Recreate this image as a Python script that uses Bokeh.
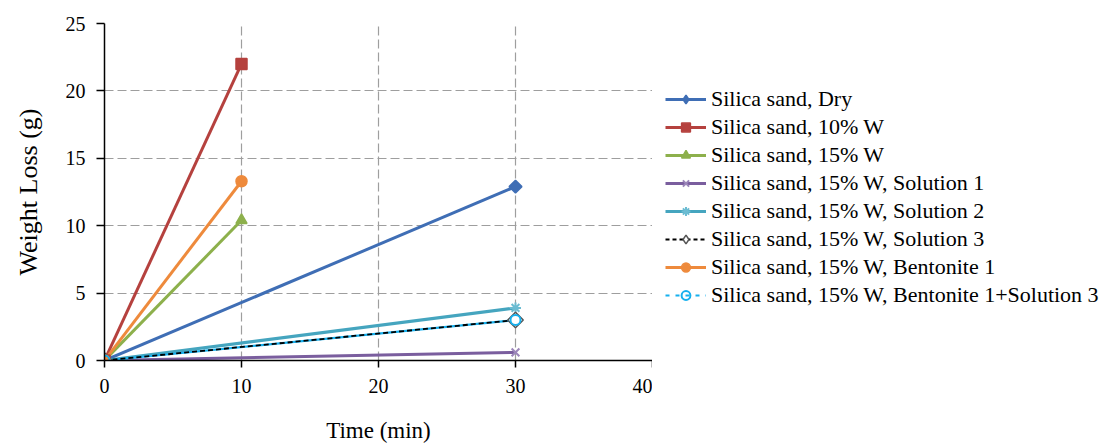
import math
from bokeh.plotting import figure
from bokeh.layouts import row
from bokeh.models import Legend, LegendItem, FixedTicker, Range1d
from bokeh.embed import file_html
from bokeh.resources import INLINE

# ---- data ----
time_short = [0, 10]
time_long = [0, 30]
dry = [0, 12.9]
w10 = [0, 22.0]
w15 = [0, 10.4]
sol1 = [0, 0.6]
sol2 = [0, 3.9]
sol3 = [0, 3.0]
bent1 = [0, 13.3]
bent1_sol3 = [0, 3.0]
labels = [
    "Silica sand, Dry",
    "Silica sand, 10% W",
    "Silica sand, 15% W",
    "Silica sand, 15% W, Solution 1",
    "Silica sand, 15% W, Solution 2",
    "Silica sand, 15% W, Solution 3",
    "Silica sand, 15% W, Bentonite 1",
    "Silica sand, 15% W, Bentonite 1+Solution 3",
]
x_ticks = [0, 10, 20, 30, 40]
y_ticks = [0, 5, 10, 15, 20, 25]

FONT = "Liberation Serif"

p = figure(width=652, height=446, x_range=Range1d(0, 40), y_range=Range1d(0, 25),
           output_backend="svg", toolbar_location=None,
           min_border_left=104, min_border_right=0, min_border_top=23, min_border_bottom=86)
p.outline_line_color = None
p.background_fill_color = "white"
p.border_fill_color = "white"

for ax, ticks in ((p.xaxis[0], x_ticks), (p.yaxis[0], y_ticks)):
    ax.ticker = FixedTicker(ticks=ticks)
    ax.minor_tick_line_color = None
    ax.major_tick_in = 0
    ax.axis_line_color = "black"
    ax.axis_line_width = 1.5
    ax.major_tick_line_color = "black"
    ax.major_tick_line_width = 1.5
    ax.major_label_text_font = FONT
    ax.major_label_text_font_size = "20px"
    ax.major_label_text_color = "black"
    ax.axis_label_text_font = FONT
    ax.axis_label_text_font_style = "normal"
    ax.axis_label_text_color = "black"

p.xaxis.major_tick_out = 7
p.xaxis.major_label_standoff = 11
p.xaxis.axis_label = "Time (min)"
p.xaxis.axis_label_text_font_size = "23px"
p.xaxis.axis_label_standoff = 22
p.yaxis.major_tick_out = 8
p.yaxis.major_label_standoff = 11
p.yaxis.axis_label = "Weight Loss (g)"
p.yaxis.axis_label_text_font_size = "26px"
p.yaxis.axis_label_standoff = 20

for g in (p.xgrid[0], p.ygrid[0]):
    g.grid_line_color = "#9E9E9E"
    g.grid_line_dash = "9 4"
    g.grid_line_width = 1.2

Q = math.pi / 4
# (x, y, line colour, line width, dash, marker, size, angle, marker line, marker fill, marker lw,
#  legend marker, legend size)
series = [
    (time_long, dry, "#3F6EB5", 3, "solid", "square", 9, Q, "#3F6EB5", "#3F6EB5", 1.5, "diamond", 13),
    (time_short, w10, "#B5413E", 3, "solid", "square", 11, 0, "#B5413E", "#B5413E", 1.5, "square", 11),
    (time_short, w15, "#8DB04C", 3, "solid", "triangle", 11, 0, "#8DB04C", "#8DB04C", 1.5, "triangle", 11),
    (time_long, sol1, "#7A5E9E", 3, "solid", "x", 11, 0, "#9C86BA", None, 2, "x", 11),
    (time_long, sol2, "#45A5BF", 3, "solid", "asterisk", 11, 0, "#6CBCD2", None, 2, "asterisk", 11),
    (time_long, sol3, "black", 1.8, "5 3", "square", 11, Q, "#555555", "white", 1.5, "diamond", 14),
    (time_short, bent1, "#EE8A3C", 3, "solid", "circle", 11, 0, "#EE8A3C", "#EE8A3C", 1.5, "circle", 11),
    (time_long, bent1_sol3, "#16B0EE", 2.2, "solid", "circle", 10, 0, "#16B0EE", None, 2, "circle", 10),
]

# line draw order: the cyan line under the black dashed one
line_order = [0, 1, 2, 3, 4, 7, 5, 6]
for i in line_order:
    xs, ys, c, lw, dash, *_ = series[i]
    p.line(xs, ys, line_color=c, line_width=lw, line_dash=dash)
for i, (xs, ys, c, lw, dash, marker, size, ang, mline, mfill, mlw, _lm, _ls) in enumerate(series):
    p.scatter(xs, ys, marker=marker, size=size, angle=ang, line_color=mline,
              line_width=mlw, fill_color=mfill)

# ---- legend panel (separate figure to the right; its ranges keep the data out of view) ----
q = figure(width=453, height=446, x_range=Range1d(-2, -1), y_range=Range1d(-2, -1),
           output_backend="svg", toolbar_location=None,
           x_axis_type=None, y_axis_type=None,
           min_border_left=0, min_border_right=0, min_border_top=0, min_border_bottom=0)
q.outline_line_color = None
q.grid.visible = False
q.background_fill_color = "white"
q.border_fill_color = "white"

legend_dash = ["solid", "solid", "solid", "solid", "solid", "4 3", "solid", "4 6"]
items = []
for i, lab in enumerate(labels):
    xs, ys, c, lw, dash, marker, size, ang, mline, mfill, mlw, lmarker, lsize = series[i]
    lr = q.line(xs, ys, line_color=c, line_width=lw, line_dash=legend_dash[i])
    sr = q.scatter(xs, ys, marker=lmarker, size=lsize, line_color=mline,
                   line_width=mlw, fill_color=mfill)
    items.append(LegendItem(label=lab, renderers=[lr, sr]))

legend = Legend(items=items, location=(13, 52))
legend.background_fill_alpha = 0
legend.border_line_color = None
legend.padding = 0
legend.margin = 0
legend.glyph_width = 41
legend.glyph_height = 22
legend.label_height = 22
legend.spacing = 2
legend.label_standoff = 5
legend.label_text_font = FONT
legend.label_text_font_size = "22px"
legend.label_text_color = "black"
q.add_layout(legend)

layout = row(p, q)
open("out.html", "w").write(file_html(layout, INLINE))
